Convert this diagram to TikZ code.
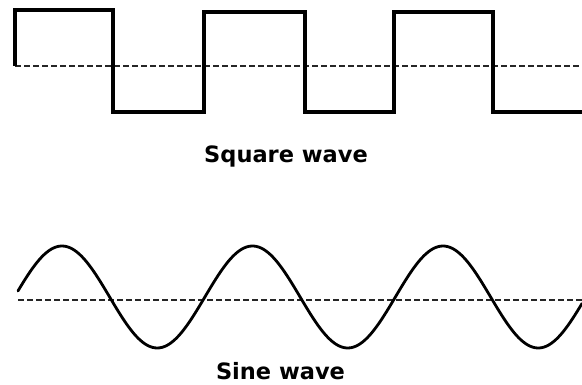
\documentclass[tikz,border=0pt]{standalone}
\usepackage{fontspec}
\newfontfamily\wavefont{DejaVu Sans}
\begin{document}
\begin{tikzpicture}[x=1pt, y=-1pt, line join=miter]
\tikzset{
    baseline/.style={draw=black!85, line width=1.6pt, dash pattern=on 5.5pt off 3.5pt},
    square/.style={draw=black, line width=3.6pt},
    sine/.style={draw=black, line width=2.8pt, line cap=round, line join=round},
    wavelabel/.style={font=\wavefont\bfseries\fontsize{22.5}{27}\selectfont, anchor=base, inner sep=0pt}
}
\useasboundingbox (0,0) rectangle (582,385);
% square wave
\draw[baseline] (15,66) -- (582,66);
\draw[square] (15,66) -- (15,10) -- (113,10) -- (113,112) -- (204,112)
  -- (204,12) -- (305,12) -- (305,112) -- (394,112) -- (394,12)
  -- (493,12) -- (493,112) -- (582,112);
\node[wavelabel] (squarelabel) at (286,163) {Square wave};
% sine wave
\draw[baseline] (18,300) -- (582,300);
\draw[sine] plot[domain=18:582, samples=240] (\x, {297-51*cos((\x-62)/190.5*360)});
\node[wavelabel] (sinelabel) at (280.5,380) {Sine wave};
\end{tikzpicture}
\end{document}
